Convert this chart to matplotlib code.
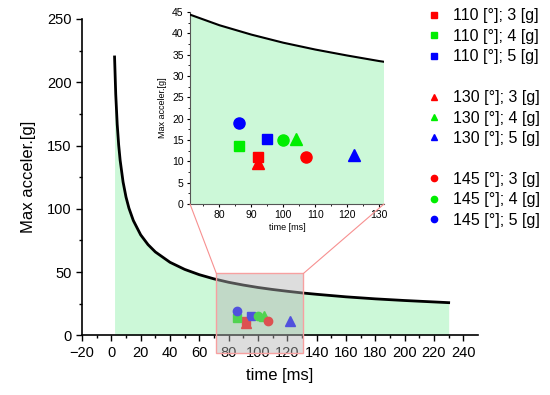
import matplotlib
matplotlib.use("Agg")
import matplotlib.pyplot as plt
from matplotlib.lines import Line2D
from matplotlib.patches import Rectangle, ConnectionPatch

plt.rcParams['font.family'] = ['Liberation Sans', 'DejaVu Sans']

# Limit curve
curve_t = [2.2, 3, 4, 5, 6, 8, 10, 12, 15, 20, 25, 30, 40, 50, 60, 70, 80, 90,
           100, 110, 120, 130, 140, 160, 180, 200, 230]
curve_a = [220, 190.5, 166.8, 150.5, 138.4, 121.2, 109.3, 100.5, 90.7, 79.4, 71.7,
           65.9, 57.7, 52.1, 47.9, 44.6, 41.9, 39.7, 37.8, 36.2, 34.8, 33.5, 32.4,
           30.4, 28.8, 27.5, 25.8]

# Measured points
labels = ['110 [°]; 3 [g]', '110 [°]; 4 [g]', '110 [°]; 5 [g]',
          '130 [°]; 3 [g]', '130 [°]; 4 [g]', '130 [°]; 5 [g]',
          '145 [°]; 3 [g]', '145 [°]; 4 [g]', '145 [°]; 5 [g]']
pt_time = [92, 86, 95, 92, 104, 122, 107, 100, 86]
pt_acc = [11.1, 13.5, 15.2, 9.7, 15.3, 11.5, 11.0, 14.9, 19.1]
pt_marker = ['s', 's', 's', '^', '^', '^', 'o', 'o', 'o']
pt_color = ['#ff0000', '#00ee00', '#0000ff'] * 3

main_xticks = list(range(-20, 241, 20))
main_yticks = list(range(0, 251, 50))
inset_xticks = list(range(80, 131, 10))
inset_yticks = list(range(0, 46, 5))

fill_col = '#ccf8d8'
msize_main = {'s': 5.5, '^': 6.5, 'o': 6}
msize_in = {'s': 7, '^': 9, 'o': 8}

fig = plt.figure(figsize=(5.5, 3.95), dpi=100)
ax = fig.add_axes([82/550, 1-335.3/395, 396/550, 316.3/395])
ax.fill_between(curve_t, curve_a, 0, color=fill_col, lw=0, zorder=1)
ax.plot(curve_t, curve_a, color='black', lw=2, zorder=3)
for t, a, m, c in zip(pt_time, pt_acc, pt_marker, pt_color):
    ax.plot(t, a, marker=m, color=c, ms=msize_main[m], ls='none', zorder=4)
ax.set_xlim(-20, 250)
ax.set_ylim(0, 250)
ax.set_xticks(main_xticks)
ax.set_yticks(main_yticks)
ax.set_xticks(list(range(-10, 250, 20)), minor=True)
ax.set_yticks(list(range(25, 250, 50)), minor=True)
ax.tick_params(labelsize=10.5, length=4, width=1, direction='out')
ax.tick_params(which='minor', length=2.5, width=1)
for s in ['top', 'right']:
    ax.spines[s].set_visible(False)
for s in ['left', 'bottom']:
    ax.spines[s].set_linewidth(1.2)
ax.set_xlabel('time [ms]', fontsize=12, labelpad=6)
ax.set_ylabel('Max acceler.[g]', fontsize=12, labelpad=8)

# zoom box
box_x0, box_x1, box_y0, box_y1 = 71.6, 131.0, -14, 48.9
rect = Rectangle((box_x0, box_y0), box_x1 - box_x0, box_y1 - box_y0,
                 facecolor='#b4b4b4', alpha=0.45, edgecolor='none', zorder=5, clip_on=False)
ax.add_patch(rect)
rect2 = Rectangle((box_x0, box_y0), box_x1 - box_x0, box_y1 - box_y0,
                  facecolor='none', edgecolor='#f7a0a0', lw=1, zorder=6, clip_on=False)
ax.add_patch(rect2)

# inset
axi = fig.add_axes([190/550, 1-204/395, 194/550, 192/395])
axi.set_facecolor('white')
axi.fill_between(curve_t, curve_a, 0, color=fill_col, lw=0, zorder=1)
axi.plot(curve_t, curve_a, color='black', lw=1.5, zorder=3)
for t, a, m, c in zip(pt_time, pt_acc, pt_marker, pt_color):
    axi.plot(t, a, marker=m, color=c, ms=msize_in[m], ls='none', zorder=4)
axi.set_xlim(70.8, 131.5)
axi.set_ylim(0, 45)
axi.set_xticks(inset_xticks)
axi.set_yticks(inset_yticks)
axi.set_xticks(list(range(75, 131, 10)), minor=True)
axi.set_yticks([v + 2.5 for v in range(0, 45, 5)], minor=True)
axi.tick_params(labelsize=7.5, length=2.5, width=0.8, direction='out', pad=2)
axi.tick_params(which='minor', length=1.5, width=0.6)
for s in ['top', 'right']:
    axi.spines[s].set_visible(False)
for s in ['left', 'bottom']:
    axi.spines[s].set_linewidth(0.8)
    axi.spines[s].set_color('#555555')
axi.set_xlabel('time [ms]', fontsize=6.5, labelpad=2)
axi.set_ylabel('Max acceler.[g]', fontsize=6.5, labelpad=4)

for xa, ya in [((box_x0, box_y1), (0, 0)), ((box_x1, box_y1), (1, 0))]:
    cp = ConnectionPatch(xyA=xa, coordsA=ax.transData, xyB=ya, coordsB=axi.transAxes,
                         color='#f79090', lw=0.8, zorder=10)
    fig.add_artist(cp)

# legend
handles = []
lab = []
for i in range(9):
    handles.append(Line2D([], [], marker=pt_marker[i], color=pt_color[i], ls='none', ms=4.5))
    lab.append(labels[i])
    if i in (2, 5):
        handles.append(Line2D([], [], ls='none'))
        lab.append(' ')
fig.legend(handles, lab, loc='upper left', bbox_to_anchor=(418/550, 1-2/395),
           frameon=False, fontsize=11.5, handletextpad=0.6, labelspacing=0.34,
           handlelength=1.2, borderaxespad=0)

fig.savefig('out.png', dpi=100)
